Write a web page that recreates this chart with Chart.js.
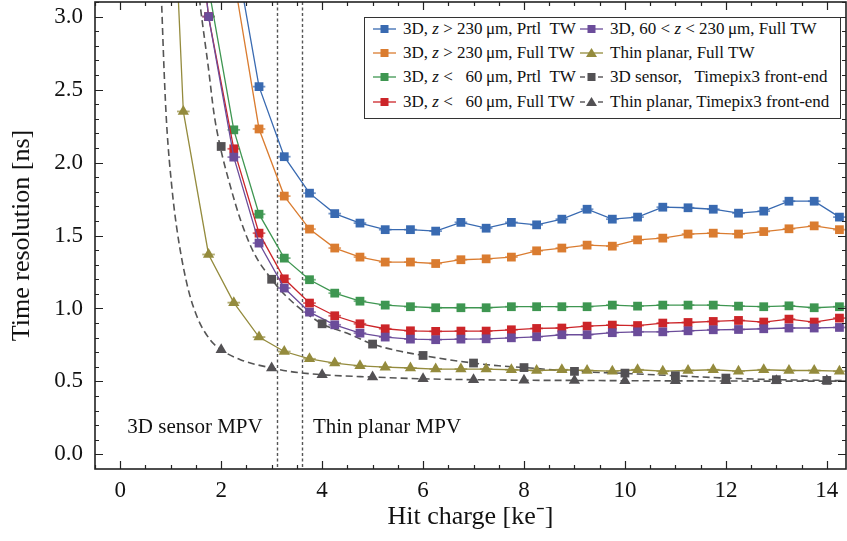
<!DOCTYPE html>
<html>
<head>
<meta charset="utf-8">
<title>Time resolution vs hit charge</title>
<script src="https://cdn.jsdelivr.net/npm/chart.js@4.4.1/dist/chart.umd.min.js"></script>
<style>
  html, body { margin: 0; padding: 0; background: #fff; }
  #wrap { position: relative; width: 847px; height: 541px; }
  #legend {
    position: absolute; left: 364px; top: 17px; width: 477px; height: 102px;
    box-sizing: border-box; border: 1px solid #333; background: #fff;
    font-family: "Liberation Serif", "Times New Roman", serif; font-size: 17px; color: #111;
  }
  #legend .item { position: absolute; display: flex; align-items: center; height: 20px; white-space: pre; }
  #legend svg { margin-right: 7px; }
</style>
</head>
<body>
<div id="wrap">
  <canvas id="timeRes" width="847" height="541"></canvas>
  <div id="legend"></div>
</div>
<script>
// hit charge bin centres [ke-] shared by the time-walk corrected series
let binCharge = [0.75, 1.25, 1.75, 2.25, 2.75, 3.25, 3.75, 4.25, 4.75, 5.25, 5.75, 6.25, 6.75, 7.25,
                 7.75, 8.25, 8.75, 9.25, 9.75, 10.25, 10.75, 11.25, 11.75, 12.25, 12.75, 13.25, 13.75, 14.25];

// time resolution [ns]
let deepPrtl  = [null, null, null, 3.5, 2.52, 2.04, 1.79, 1.65, 1.585, 1.54, 1.54, 1.53, 1.59, 1.55,
                 1.59, 1.573, 1.612, 1.68, 1.612, 1.626, 1.694, 1.69, 1.68, 1.653, 1.667, 1.735, 1.735, 1.626];
let deepFull  = [null, null, null, 3.27, 2.23, 1.77, 1.544, 1.414, 1.352, 1.318, 1.318, 1.308, 1.334, 1.34,
                 1.352, 1.395, 1.414, 1.434, 1.427, 1.47, 1.482, 1.51, 1.516, 1.51, 1.527, 1.546, 1.566, 1.54];
let shallowPrtl = [null, null, 3.2, 2.224, 1.646, 1.345, 1.197, 1.105, 1.05, 1.023, 1.012, 1.005, 1.005, 1.005,
                   1.012, 1.012, 1.012, 1.012, 1.023, 1.016, 1.023, 1.023, 1.023, 1.016, 1.012, 1.018, 1.005, 1.012];
let shallowFull = [null, 4.6, 3.0, 2.094, 1.516, 1.203, 1.037, 0.95, 0.895, 0.861, 0.847, 0.843, 0.845, 0.845,
                   0.854, 0.863, 0.866, 0.879, 0.886, 0.883, 0.9, 0.904, 0.911, 0.918, 0.907, 0.927, 0.907, 0.934];
let midFull   = [null, 4.6, 3.0, 2.037, 1.448, 1.14, 0.975, 0.888, 0.831, 0.804, 0.79, 0.786, 0.79, 0.792,
                 0.799, 0.806, 0.82, 0.82, 0.834, 0.84, 0.84, 0.847, 0.854, 0.856, 0.861, 0.866, 0.866, 0.87];
let thinFull  = [6.25, 2.35, 1.37, 1.04, 0.804, 0.705, 0.655, 0.626, 0.607, 0.598, 0.592, 0.585, 0.585, 0.585,
                 0.58, 0.575, 0.58, 0.575, 0.57, 0.58, 0.57, 0.575, 0.58, 0.57, 0.58, 0.575, 0.575, 0.57];

// Timepix3 front-end reference points
let tpxCharge = [2, 3, 4, 5, 6, 7, 8, 9, 10, 11, 12, 13, 14];
let tpx3D     = [2.11, 1.2, 0.895, 0.756, 0.678, 0.626, 0.595, 0.569, 0.557, 0.539, 0.523, 0.512, 0.507];
let tpxThin   = [0.717, 0.592, 0.546, 0.53, 0.518, 0.512, 0.508, 0.507, 0.505, 0.505, 0.505, 0.505, 0.505];

// dashed Timepix3 curves, sampled along the drawn curve
let curve3DCharge = [1.45, 1.58, 1.75, 1.86, 1.98, 2.18, 2.38, 2.65, 3.0, 3.3, 4.0, 4.5, 5.0, 5.5, 6.0,
                     6.5, 7.0, 7.5, 8.0, 9.0, 10.0, 11.0, 12.0, 13.0, 14.0, 14.4];
let curve3D       = [3.5, 3.09, 2.64, 2.33, 2.11, 1.84, 1.61, 1.38, 1.2, 1.08, 0.895, 0.83, 0.756, 0.71, 0.678,
                     0.649, 0.626, 0.607, 0.595, 0.569, 0.555, 0.539, 0.523, 0.512, 0.507, 0.505];
let curveThinCharge = [0.76, 0.82, 0.87, 0.92, 1.02, 1.12, 1.32, 1.52, 1.78, 2.0, 2.38, 3.0, 3.37, 4.0, 5.0,
                       6.0, 7.0, 8.0, 9.0, 10.0, 11.0, 12.0, 13.0, 14.0, 14.4];
let curveThin       = [3.6, 3.09, 2.62, 2.26, 1.84, 1.55, 1.17, 0.945, 0.786, 0.717, 0.649, 0.592, 0.568, 0.546, 0.53,
                       0.518, 0.512, 0.508, 0.507, 0.505, 0.504, 0.503, 0.502, 0.502, 0.502];

// most probable values [ke-]
let mpvCharge = [3.1, 3.6];
let mpvLabels = ["3D sensor MPV", "Thin planar MPV"];

let xTickLabels = [0, 2, 4, 6, 8, 10, 12, 14];
let yTickLabels = [0.0, 0.5, 1.0, 1.5, 2.0, 2.5, 3.0];

let seriesLabels = [
    "3D, z > 230\u2009\u03bcm, Prtl  TW",
    "3D, z > 230\u2009\u03bcm, Full TW",
    "3D, z < \u200760\u2009\u03bcm, Prtl  TW",
    "3D, z < \u200760\u2009\u03bcm, Full TW",
    "3D, 60 < z < 230\u2009\u03bcm, Full TW",
    "Thin planar, Full TW",
    "3D sensor,   Timepix3 front-end",
    "Thin planar, Timepix3 front-end"
];
let seriesColors = ["#396AB1", "#DA7C30", "#3E9651", "#CC2529", "#6B4C9A", "#948B3D", "#535154", "#535154"];
let seriesMarkers = ["rect", "rect", "rect", "rect", "rect", "triangle", "rect", "triangle"];

const serif = '"Liberation Serif", "Times New Roman", serif';

function points(xs, ys) {
    let out = [];
    xs.forEach((x, i) => { if (ys[i] !== null) out.push({x: x, y: ys[i]}); });
    return out;
}

let twSeries = [deepPrtl, deepFull, shallowPrtl, shallowFull, midFull, thinFull];
let datasets = twSeries.map((vals, i) => ({
    label: seriesLabels[i],
    data: points(binCharge, vals),
    showLine: true,
    borderColor: seriesColors[i],
    backgroundColor: seriesColors[i],
    borderWidth: 1.3,
    pointStyle: seriesMarkers[i],
    pointRadius: seriesMarkers[i] == "rect" ? 6.2 : 6.5,
    pointBorderWidth: 0,
    xErr: 0.125,
    order: 20 - i
}));

[[tpxCharge, tpx3D, curve3DCharge, curve3D], [tpxCharge, tpxThin, curveThinCharge, curveThin]].forEach((s, k) => {
    let i = 6 + k;
    datasets.push({
        label: seriesLabels[i] + " curve",
        data: points(s[2], s[3]),
        showLine: true,
        cubicInterpolationMode: "monotone",
        borderColor: "#555",
        borderWidth: 1.6,
        borderDash: [7, 4],
        pointRadius: 0,
        order: 100
    });
    datasets.push({
        label: seriesLabels[i],
        data: points(s[0], s[1]),
        showLine: false,
        backgroundColor: seriesColors[i],
        borderColor: seriesColors[i],
        pointStyle: seriesMarkers[i],
        pointRadius: seriesMarkers[i] == "rect" ? 6.2 : 6.5,
        pointBorderWidth: 0,
        order: 10 - k
    });
});

// horizontal bin-width bars, MPV markers and their labels
const underlay = {
    id: "underlay",
    beforeDatasetsDraw(chart) {
        const {ctx, chartArea: a, scales: {x, y}} = chart;
        ctx.save();
        ctx.beginPath();
        ctx.rect(a.left, a.top, a.width, a.height);
        ctx.clip();

        ctx.strokeStyle = "#555";
        ctx.lineWidth = 1.4;
        ctx.setLineDash([3, 2.5]);
        mpvCharge.forEach(c => {
            let px = Math.round(x.getPixelForValue(c)) + 0.5;
            ctx.beginPath();
            ctx.moveTo(px, a.top);
            ctx.lineTo(px, a.bottom);
            ctx.stroke();
        });
        ctx.setLineDash([]);

        ctx.font = "21px " + serif;
        ctx.fillStyle = "#111";
        ctx.textBaseline = "alphabetic";
        let ty = y.getPixelForValue(0.147);
        ctx.textAlign = "right";
        ctx.fillText(mpvLabels[0], x.getPixelForValue(mpvCharge[0]) - 14, ty);
        ctx.textAlign = "left";
        ctx.fillText(mpvLabels[1], x.getPixelForValue(mpvCharge[1]) + 11, ty);

        ctx.lineWidth = 1.8;
        ctx.globalAlpha = 0.7;
        chart.data.datasets.forEach(ds => {
            if (!ds.xErr) return;
            ctx.strokeStyle = ds.borderColor;
            ds.data.forEach(p => {
                let py = y.getPixelForValue(p.y);
                ctx.beginPath();
                ctx.moveTo(x.getPixelForValue(p.x - ds.xErr), py);
                ctx.lineTo(x.getPixelForValue(p.x + ds.xErr), py);
                ctx.stroke();
            });
        });
        ctx.restore();
    }
};

// closed frame with inward ticks on all four sides
const frame = {
    id: "frame",
    afterDatasetsDraw(chart) {
        const {ctx, chartArea: a, scales: {x, y}} = chart;
        ctx.save();
        ctx.strokeStyle = "#222";
        ctx.lineWidth = 1.2;
        ctx.beginPath();
        for (let v = -0.5; v <= x.max + 1e-9; v += 0.5) {
            let px = Math.round(x.getPixelForValue(v)) + 0.5;
            let len = xTickLabels.includes(v) ? 8 : 4;
            ctx.moveTo(px, a.bottom); ctx.lineTo(px, a.bottom - len);
            ctx.moveTo(px, a.top); ctx.lineTo(px, a.top + len);
        }
        for (let k = 0; k <= 31; k++) {
            let v = k / 10;
            if (v < y.min || v > y.max) continue;
            let py = Math.round(y.getPixelForValue(v)) + 0.5;
            let len = k % 5 == 0 ? 8 : 4;
            ctx.moveTo(a.left, py); ctx.lineTo(a.left + len, py);
            ctx.moveTo(a.right, py); ctx.lineTo(a.right - len, py);
        }
        ctx.stroke();
        ctx.lineWidth = 1.6;
        ctx.strokeRect(a.left, a.top, a.right - a.left, a.bottom - a.top);
        ctx.restore();
    }
};

const chart = new Chart("timeRes", {
    type: "scatter",
    data: { datasets: datasets },
    options: {
        responsive: false,
        animation: false,
        devicePixelRatio: 1,
        layout: { autoPadding: false, padding: { left: 0, right: 1, top: 2, bottom: 0 } },
        plugins: { legend: { display: false }, tooltip: { enabled: false } },
        scales: {
            x: {
                type: "linear", min: -0.5, max: 14.38,
                grid: { display: false, drawTicks: false },
                border: { display: false },
                afterBuildTicks: s => { s.ticks = xTickLabels.map(v => ({ value: v })); },
                afterFit: s => { s.height = 72; s.paddingLeft = 0; s.paddingRight = 0; },
                ticks: { font: { family: serif, size: 23 }, color: "#111", padding: 8, maxRotation: 0, autoSkip: false },
                title: { display: true, text: "Hit charge [ke\u207b]", font: { family: serif, size: 26 }, color: "#111",
                         padding: { top: 0, bottom: 8 } }
            },
            y: {
                type: "linear", min: -0.1, max: 3.1,
                grid: { display: false, drawTicks: false },
                border: { display: false },
                afterBuildTicks: s => { s.ticks = yTickLabels.map(v => ({ value: v })); },
                afterFit: s => { s.width = 95; s.paddingTop = 0; s.paddingBottom = 0; },
                ticks: { font: { family: serif, size: 23 }, color: "#111", padding: 12, autoSkip: false,
                         callback: v => v.toFixed(1) },
                title: { display: true, text: "Time resolution [ns]", font: { family: serif, size: 26 }, color: "#111",
                         padding: { top: 7, bottom: 0 } }
            }
        }
    },
    plugins: [underlay, frame]
});

// legend: two columns of four entries
function markerSvg(color, shape, dashed) {
    let line = dashed
        ? '<line x1="0" y1="7" x2="5" y2="7" stroke="' + color + '" stroke-width="1.4"/>' +
          '<line x1="18" y1="7" x2="23" y2="7" stroke="' + color + '" stroke-width="1.4"/>'
        : '<line x1="0" y1="7" x2="23" y2="7" stroke="' + color + '" stroke-width="1.3"/>';
    let mark = shape == "rect"
        ? '<rect x="7.5" y="3" width="8" height="8" fill="' + color + '"/>'
        : '<polygon points="11.5,2 17,11 6,11" fill="' + color + '"/>';
    return '<svg width="23" height="14" viewBox="0 0 23 14">' + line + mark + '</svg>';
}

const legendEl = document.getElementById("legend");
seriesLabels.forEach((text, i) => {
    let col = Math.floor(i / 4), row = i % 4;
    let item = document.createElement("div");
    item.className = "item";
    item.style.left = (col == 0 ? 8 : 215) + "px";
    item.style.top = (1 + row * 24.2) + "px";
    let html = text.replace(/ z /g, ' <i>z</i> ');
    item.innerHTML = markerSvg(seriesColors[i], seriesMarkers[i], i >= 6) + '<span>' + html + '</span>';
    legendEl.appendChild(item);
});
</script>
</body>
</html>
